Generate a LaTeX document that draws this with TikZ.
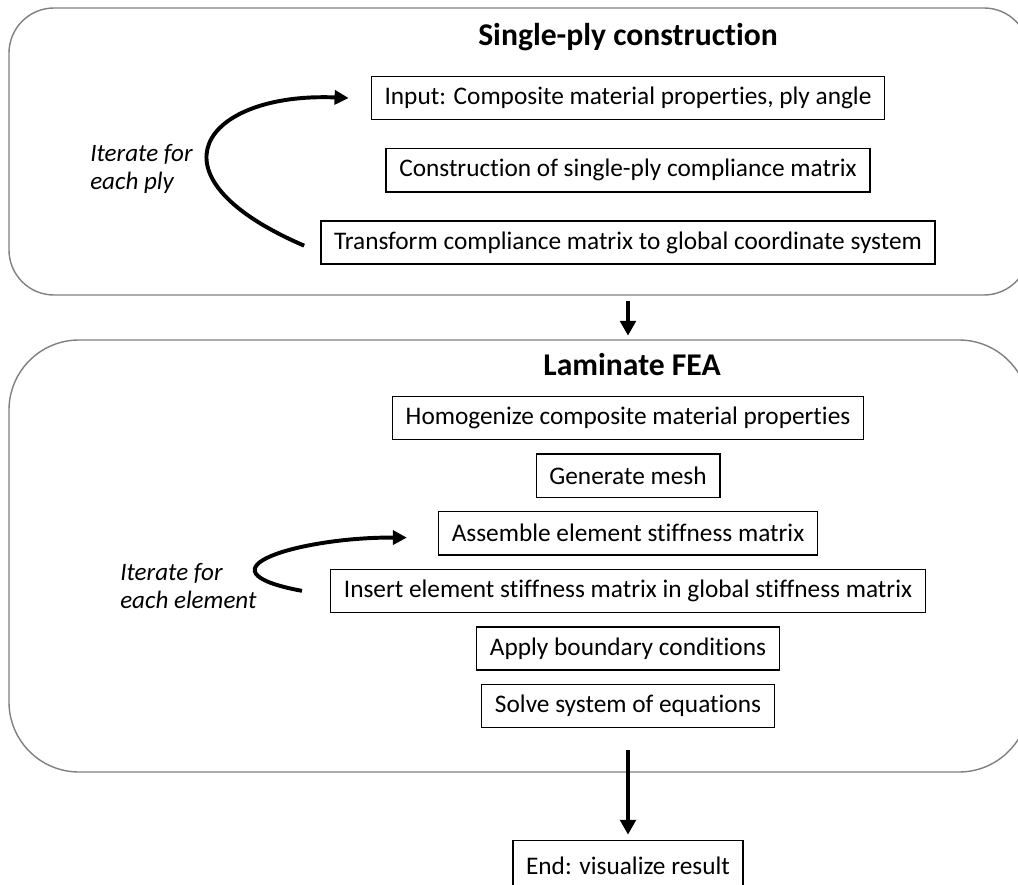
\documentclass[tikz,border=0pt]{standalone}
\usepackage{fontspec}
\setmainfont{Carlito}[Ligatures=NoCommon]
\usepackage{tikz}
\usetikzlibrary{arrows.meta, positioning}
\definecolor{framegray}{RGB}{128,128,128}

\begin{document}
\begin{tikzpicture}[
    x=0.025cm, y=-0.025cm,
    node distance=0.325cm,
    stepbox/.style={draw, line width=1pt, minimum height=1.08cm, inner xsep=0.33cm, font=\fontsize{18}{21}\selectfont},
    heading/.style={font=\bfseries\fontsize{22.5}{26}\selectfont},
    note/.style={align=left, inner sep=0pt, font=\itshape\fontsize{17.8}{20}\selectfont},
    panel/.style={draw=framegray, line width=1pt},
    arrow/.style={-{Triangle[length=10.5pt, width=11pt]}, line width=2.8pt},
    looparrow/.style={-{Triangle[length=10pt, width=10pt]}, line width=2.8pt}
]
    \useasboundingbox (0,0) rectangle (1018,885);
    \clip (0,0) rectangle (1018,885);

    % Panels
    \draw[panel, rounded corners=1.125cm] (9,8) rectangle (1029,295);
    \draw[panel, rounded corners=1.75cm] (9,340) rectangle (1029,772);

    % Single-ply construction
    \node[heading] (plytitle) at (628,37) {Single-ply construction};
    \node[stepbox] (input) at (628,98) {Input: Composite material properties, ply angle};
    \node[stepbox, below=0.69cm of input] (compliance) {Construction of single-ply compliance matrix};
    \node[stepbox, below=0.69cm of compliance] (transform) {Transform compliance matrix to global coordinate system};
    \node[note, anchor=west] (plynote) at (90,169) {Iterate for\\each ply};

    % Laminate FEA
    \node[heading] (featitle) at (632,365) {Laminate FEA};
    \node[stepbox] (homog) at (628,418) {Homogenize composite material properties};
    \node[stepbox, below=of homog] (mesh) {Generate mesh};
    \node[stepbox, below=of mesh] (assemble) {Assemble element stiffness matrix};
    \node[stepbox, below=of assemble] (insert) {Insert element stiffness matrix in global stiffness matrix};
    \node[stepbox, below=of insert] (bc) {Apply boundary conditions};
    \node[stepbox, below=of bc] (solve) {Solve system of equations};
    \node[note, anchor=west] (elemnote) at (120,586) {Iterate for\\each element};

    % End
    \node[stepbox, minimum height=1.27cm, below=2.78cm of solve] (result) {End: visualize result};

    % Arrows
    \draw[arrow, shorten <=0.9cm, shorten >=1.5cm] (transform) -- (homog);
    \draw[arrow, shorten <=0.55cm, shorten >=0.125cm] (solve) -- (result);
    \draw[looparrow] ([xshift=-0.4cm, yshift=-0.08cm]transform.west) .. controls (140,175) and (205,92) .. ([xshift=-0.55cm]input.west);
    \draw[looparrow] ([xshift=-0.7cm]insert.west) .. controls (190,570) and (300,537) .. ([xshift=-0.775cm, yshift=-0.11cm]assemble.west);
\end{tikzpicture}
\end{document}
